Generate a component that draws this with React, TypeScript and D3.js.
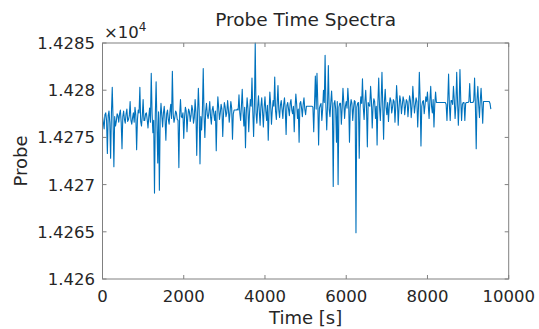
import React from 'react';
import * as d3 from 'd3';

// Probe readings, stored as offset above 14260.
// probeDelta: samples at t = 0, 40, 80, ... s
// probeDeltaMid: samples in between, at t = 20, 60, 100, ... s
const probeBase = 14260;
const sampleStep = 40;
const probeDelta = [
  17.2, 15.9, 17.6, 13.3, 17.8, 12.8, 20.3, 11.9, 16.2, 17.5,
  16.6, 17.9, 13.8, 17.8, 16.5, 18.0, 16.9, 18.8, 16.4, 17.6,
  18.2, 13.7, 17.9, 20.3, 16.2, 19.0, 16.8, 17.6, 16.0, 18.1,
  21.8, 15.5, 9.1, 20.9, 12.3, 9.4, 18.6, 16.1, 18.3, 14.7,
  17.9, 16.4, 18.5, 22.0, 16.6, 17.8, 16.9, 11.8, 19.0, 17.1,
  14.9, 18.2, 15.6, 18.0, 16.7, 18.4, 16.5, 19.0, 13.1, 20.2,
  12.2, 15.8, 22.3, 15.0, 18.6, 17.0, 18.8, 16.4, 18.3, 16.8,
  13.6, 19.3, 16.9, 18.5, 15.1, 18.7, 17.2, 18.9, 16.6, 18.8,
  14.8, 17.9, 17.9, 18.0, 19.5, 16.8, 20.1, 16.2, 13.9, 19.2,
  15.6, 19.0, 21.3, 15.1, 25.0, 16.5, 19.4, 16.3, 19.2, 16.1,
  19.3, 16.8, 14.7, 19.8, 16.4, 18.9, 21.4, 16.9, 20.5, 17.1,
  18.9, 17.0, 19.2, 15.3, 18.7, 17.3, 19.0, 17.5, 15.6, 19.6,
  17.0, 14.5, 18.8, 17.2, 19.2, 17.4, 18.3, 18.3, 18.3, 18.3,
  15.6, 21.5, 21.8, 14.2, 18.4, 16.8, 20.0, 23.7, 15.8, 22.6,
  17.2, 19.9, 9.8, 18.9, 14.5, 10.0, 18.6, 16.4, 20.2, 17.0,
  18.8, 20.2, 14.5, 19.0, 16.8, 18.9, 4.9, 18.6, 12.8, 19.3,
  21.2, 16.9, 20.0, 14.0, 18.4, 20.4, 16.0, 19.1, 17.0, 14.2,
  21.3, 16.8, 21.9, 14.8, 20.1, 17.4, 16.7, 19.2, 17.6, 19.0,
  16.6, 20.5, 16.3, 19.4, 17.5, 19.3, 17.4, 19.0, 17.2, 19.4,
  17.1, 20.4, 17.6, 19.2, 16.1, 21.9, 14.1, 18.8, 17.5, 19.3,
  19.8, 17.0, 20.4, 17.6, 16.1, 19.8, 18.7, 18.7, 18.7, 18.7,
  18.7, 18.7, 16.8, 21.7, 16.8, 18.9, 20.4, 17.0, 21.9, 16.3,
  22.2, 16.8, 18.7, 16.8, 18.7, 18.7, 20.7, 18.7, 18.7, 21.3,
  13.8, 20.4, 17.1, 20.2, 16.5, 18.8, 18.8, 18.8, 18.8, 18.0,
];
const probeDeltaMid = [
  16.6, 17.4, 16.8, 17.3, 16.5, 17.6, 16.9, 17.2, 16.7, 17.3,
  17.5, 16.6, 17.2, 16.9, 17.5, 16.7, 17.3, 16.8, 17.1, 16.6,
  17.4, 16.9, 17.6, 16.7, 17.3, 16.8, 17.5, 16.9, 17.2, 16.6,
  17.6, 16.8, 17.4, 16.5, 17.7, 17.0, 17.3, 17.6, 16.9, 17.5,
  16.9, 17.7, 17.0, 17.5, 17.1, 17.6, 16.8, 17.4, 17.2, 17.6,
  17.1, 17.8, 17.2, 17.7, 17.3, 17.9, 17.1, 17.6, 17.4, 17.8,
  17.2, 17.9, 17.3, 17.8, 17.4, 17.7, 17.2, 17.9, 17.5, 17.8,
  17.4, 18.1, 17.6, 18.0, 17.5, 18.2, 17.6, 17.9, 17.7, 18.1,
  17.5, 17.9, 17.9, 17.9, 17.6, 18.3, 17.7, 18.2, 17.6, 18.1,
  17.7, 18.3, 17.8, 18.4, 17.6, 18.2, 17.8, 18.3, 17.7, 18.2,
  17.8, 18.4, 17.7, 18.5, 17.9, 18.3, 17.8, 18.6, 17.9, 18.4,
  18.0, 18.5, 17.9, 18.4, 18.0, 18.6, 17.9, 18.3, 18.1, 18.5,
  18.0, 18.6, 18.1, 18.5, 18.0, 18.3, 18.3, 18.3, 18.3, 18.2,
  18.6, 18.0, 18.7, 18.1, 18.6, 18.0, 18.7, 18.2, 18.5, 18.0,
  18.7, 18.1, 18.6, 18.0, 18.8, 18.2, 18.6, 18.1, 18.7, 18.3,
  18.1, 18.7, 18.2, 18.6, 18.1, 18.8, 18.2, 18.7, 18.1, 18.6,
  18.2, 18.8, 18.1, 18.7, 18.3, 18.9, 18.2, 18.8, 18.3, 18.7,
  18.2, 18.9, 18.3, 18.8, 18.2, 18.7, 18.3, 18.9, 18.2, 18.8,
  18.3, 18.9, 18.2, 18.8, 18.4, 18.9, 18.3, 18.8, 18.4, 18.9,
  18.3, 18.9, 18.4, 18.8, 18.3, 19.0, 18.3, 18.9, 18.4, 18.8,
  18.4, 18.9, 18.3, 19.0, 18.5, 18.7, 18.7, 18.7, 18.7, 18.7,
  18.7, 18.5, 18.9, 18.4, 18.9, 18.5, 19.0, 18.4, 18.9, 18.5,
  18.9, 18.5, 18.7, 18.6, 18.7, 18.8, 18.7, 18.7, 18.9, 18.4,
  19.0, 18.5, 18.9, 18.5, 18.8, 18.8, 18.8, 18.8, 18.6,
];

const xTicks = [0, 2000, 4000, 6000, 8000, 10000];
const xTickLabels = ['0', '2000', '4000', '6000', '8000', '10000'];
const yTicks = [14260, 14265, 14270, 14275, 14280, 14285];
const yTickLabels = ['1.426', '1.4265', '1.427', '1.4275', '1.428', '1.4285'];

const W = 539;
const H = 329;
const L = 102.5, R = 508.7, T = 43, B = 279;
const font = 'DejaVu Sans';
const textColor = '#262626';
const axisColor = '#808080';

type Pt = { t: number; v: number };

export default function App() {
  const x = d3.scaleLinear().domain([0, 10000]).range([L, R]);
  const y = d3.scaleLinear().domain([14260, 14285]).range([B, T]);
  const data: Pt[] = [];
  probeDelta.forEach((d, i) => {
    data.push({ t: i * sampleStep, v: probeBase + d });
    if (i < probeDeltaMid.length) {
      data.push({ t: i * sampleStep + sampleStep / 2, v: probeBase + probeDeltaMid[i] });
    }
  });
  const line = d3.line<Pt>().x(d => x(d.t)).y(d => y(d.v));
  const tl = 4;

  return (
    <svg width={W} height={H} style={{ position: 'absolute', left: 0, top: 0, background: '#fff' }}
      fontFamily={font}>
      <rect x={0} y={0} width={W} height={H} fill="#fff" />
      <defs>
        <clipPath id="plotclip">
          <rect x={L} y={T - 1} width={R - L} height={B - T + 2} />
        </clipPath>
      </defs>
      <path d={line(data) || ''} fill="none" stroke="#0072BD" strokeWidth={1.1}
        strokeLinejoin="round" clipPath="url(#plotclip)" />
      <rect x={L} y={T} width={R - L} height={B - T} fill="none" stroke={axisColor} strokeWidth={1} />
      {xTicks.map((v, i) => (
        <g key={'x' + i}>
          <line x1={x(v)} x2={x(v)} y1={B} y2={B - tl} stroke={axisColor} />
          <line x1={x(v)} x2={x(v)} y1={T} y2={T + tl} stroke={axisColor} />
          <text x={x(v)} y={302} textAnchor="middle" fontSize={16.5} fill={textColor}>{xTickLabels[i]}</text>
        </g>
      ))}
      {yTicks.map((v, i) => (
        <g key={'y' + i}>
          <line x1={L} x2={L + tl} y1={y(v)} y2={y(v)} stroke={axisColor} />
          <line x1={R} x2={R - tl} y1={y(v)} y2={y(v)} stroke={axisColor} />
          <text x={95} y={y(v)} dy="0.36em" textAnchor="end" fontSize={16.5} fill={textColor}>{yTickLabels[i]}</text>
        </g>
      ))}
      <text x={104} y={38} fontSize={16.5} fill={textColor}>×10<tspan dy={-7} fontSize={12}>4</tspan></text>
      <text x={(L + R) / 2} y={26} textAnchor="middle" fontSize={18.5} fill={textColor}>Probe Time Spectra</text>
      <text x={(L + R) / 2} y={324} textAnchor="middle" fontSize={18} fill={textColor}>Time [s]</text>
      <text transform={`translate(27,${(T + B) / 2}) rotate(-90)`} textAnchor="middle" fontSize={18} fill={textColor}>Probe</text>
    </svg>
  );
}
